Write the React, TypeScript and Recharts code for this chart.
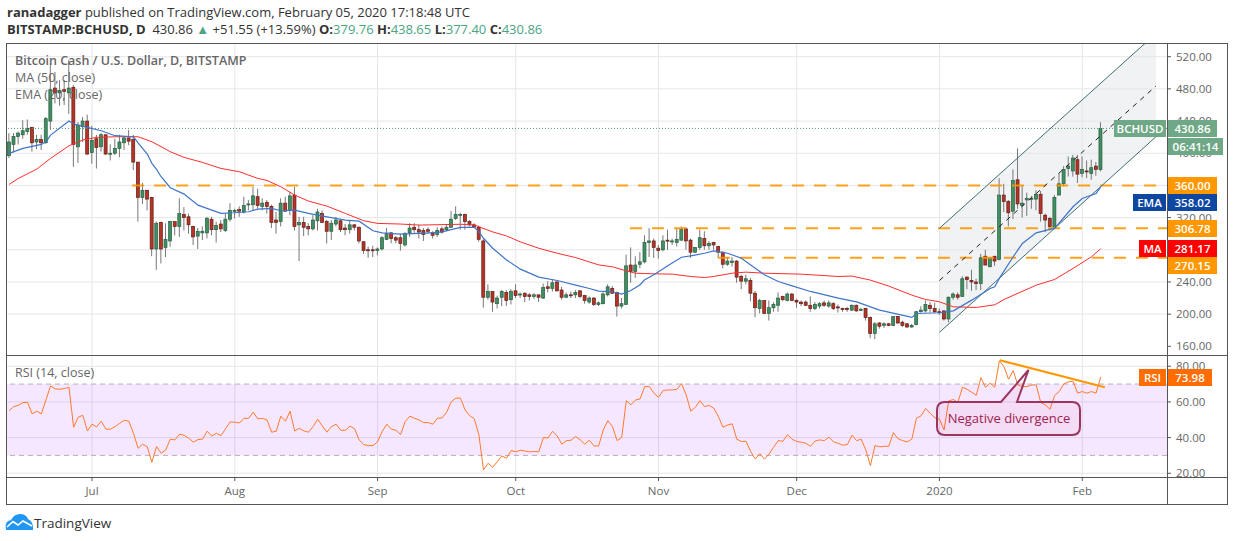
import {
  Area,
  Bar,
  CartesianGrid,
  ComposedChart,
  Line,
  ReferenceArea,
  ReferenceLine,
  XAxis,
  YAxis,
} from 'recharts';

const FONT = '"Open Sans", sans-serif';

// one entry per daily candle, first one is Jun 13 2019
const opens = [
  397,411,421,423,427,432,414,417,413,440,
  481,475,479,475,482,408,433,440,401,418,
  408,423,399,400,406,413,419,417,389,345,
  354,345,281,314,283,291,315,309,324,321,
  309,297,301,301,318,305,312,304,318,328,
  330,327,336,336,346,334,339,334,317,315,
  338,329,348,311,314,309,306,316,325,315,
  303,312,316,307,305,311,308,290,280,280,
  279,281,293,301,295,295,286,301,308,305,
  304,305,301,299,306,305,308,319,323,324,
  315,311,308,291,221,228,213,221,227,218,
  229,224,226,224,222,224,220,234,232,240,
  230,221,224,224,229,223,215,220,212,213,
  224,232,227,210,212,261,253,262,265,289,
  291,282,280,292,290,289,292,306,292,277,
  283,294,285,289,284,277,262,264,266,247,
  241,242,226,207,217,201,208,211,222,217,
  225,217,215,215,211,207,210,214,210,213,
  209,207,207,205,211,205,207,196,176,189,
  186,188,186,197,190,188,184,187,203,204,
  211,207,203,204,194,221,224,222,246,242,
  240,238,272,259,272,268,348,340,328,367,
  335,342,343,343,349,323,319,308,348,362,
  381,378,392,375,378,375,384,379.76,
];
const highs = [
  425,425,427,441,442,433,423,423,445,512,
  501,491,491,516,485,439,445,448,434,423,
  425,423,411,418,423,421,429,423,389,363,
  354,346,315,315,313,316,315,344,333,325,
  310,307,309,321,321,315,317,325,338,331,
  334,346,342,358,356,344,342,336,327,344,
  346,352,358,321,321,313,323,331,329,317,
  317,321,318,312,317,312,309,291,284,285,
  283,297,307,302,297,300,302,313,313,311,
  307,308,303,308,309,311,328,334,326,325,
  317,313,310,293,237,228,223,230,230,231,
  237,227,227,226,226,224,238,241,243,241,
  234,227,228,230,229,224,222,221,216,228,
  237,235,228,220,274,283,272,277,298,307,
  294,286,298,305,294,306,309,308,294,283,
  305,303,291,290,285,278,271,271,267,249,
  249,245,229,219,217,217,215,227,223,227,
  226,219,217,217,222,215,215,217,217,215,
  212,208,209,212,212,208,208,197,190,190,
  190,189,197,198,192,189,188,204,210,217,
  215,214,207,205,222,227,227,247,247,255,
  244,275,280,271,272,369,362,342,380,406,
  360,351,347,354,353,325,321,348,375,384,
  396,398,398,396,391,392,389,438.65,
];
const lows = [
  394,401,411,418,423,402,405,404,412,429,
  462,459,460,449,383,388,414,398,387,381,
  402,398,391,398,395,404,410,379,315,337,
  329,272,255,263,271,284,298,296,304,300,
  286,281,292,294,298,289,302,302,315,319,
  321,325,329,329,331,329,325,307,300,309,
  327,323,304,266,297,298,304,304,313,288,
  292,309,302,298,300,304,288,275,270,271,
  273,279,292,288,288,279,284,296,300,294,
  291,300,294,296,300,303,307,317,305,305,
  309,307,290,208,218,203,207,210,210,212,
  220,220,215,217,219,215,219,227,228,228,
  218,220,220,220,220,213,213,210,210,212,
  222,225,197,207,212,239,245,257,263,271,
  270,269,278,280,286,284,291,280,270,276,
  280,280,280,280,270,257,260,259,239,231,
  237,216,196,201,200,192,203,203,216,216,
  216,208,210,210,203,205,207,209,208,205,
  202,203,203,204,203,204,192,170,169,182,
  183,185,185,188,184,183,183,186,202,202,
  202,201,199,192,190,218,218,222,231,229,
  230,230,261,258,260,267,327,309,318,331,
  320,322,331,329,315,302,304,306,348,359,
  371,371,363,370,369,367,372,377.4,
];
const closes = [
  414,421,425,428,431,413,417,413,443,479,
  475,478,477,481,411,435,440,399,416,407,
  423,399,400,406,414,419,415,389,345,354,
  343,281,313,281,293,315,309,325,320,311,
  296,303,303,319,305,310,306,318,329,329,
  328,335,337,347,335,338,334,314,314,338,
  328,347,309,314,308,306,317,327,314,303,
  313,317,305,305,311,308,291,279,279,279,
  281,295,300,294,292,288,300,307,305,302,
  299,303,298,304,302,308,318,324,324,315,
  311,308,293,221,228,215,220,228,217,228,
  223,225,222,222,224,221,233,232,239,229,
  221,224,223,227,222,217,220,212,214,225,
  234,226,210,213,260,253,261,265,289,291,
  283,279,291,291,291,293,306,291,277,283,
  295,285,288,286,277,262,266,266,246,241,
  244,226,208,217,201,208,212,220,218,225,
  217,215,213,211,207,212,213,211,214,207,
  208,206,206,211,204,206,196,176,188,185,
  188,186,197,189,186,184,186,203,205,212,
  207,203,202,194,221,225,221,244,243,240,
  238,270,261,270,266,348,340,326,366,337,
  338,344,344,349,325,317,309,345,362,380,
  384,394,374,380,377,382,380,430.86,
];

// moving averages at the days where the curve turns
const emaDays = [
  0,3,7,8,9,13,14,17,20,23,27,28,30,31,32,33,35,38,41,44,46,49,52,54,57,59,62,65,69,73,76,79,81,85,89,
  90,94,98,101,102,103,105,108,111,115,119,123,126,128,131,133,135,137,138,140,143,146,148,151,153,156,159,162,164,167,170,174,180,
  184,189,196,197,202,205,209,213,214,215,218,220,223,226,227,231,233,236,237,
];
const emaValues = [
  399.8,406,411,414.3,422.6,440,436.3,432.1,428,421.8,420.5,413,399,387.4,379.9,370.8,357.1,349.2,335.5,329.3,325.2,326,327.3,330.6,331.4,328.5,329.3,325.2,321,316.9,315.6,303.6,301.1,299.5,300.3,
  300.5,302.2,307.9,307.9,302.6,294.3,281.9,267.4,255.9,246,241.8,236,231.9,228.6,227.8,224.9,229.4,236.5,242.7,248.9,260,270.7,272.4,275.7,278.6,275.7,269.5,257.1,248.9,240.6,235.2,228.2,219.9,
  215.3,205,195.9,200.8,201.7,204.1,217.4,231.9,234,244.4,271.3,287.9,301.1,305.3,306.5,333.5,343.8,350,358.02,
];
const maDays = [
  0,2,6,9,13,16,19,23,28,31,35,38,42,46,50,54,56,59,62,65,69,73,77,80,85,89,
  98,101,105,108,111,115,119,123,128,131,134,136,140,144,148,151,153,157,160,164,172,180,
  183,187,191,196,199,202,205,210,214,216,223,227,231,235,236,237,
];
const maValues = [
  361.2,368.7,380.3,393.6,409.3,416.4,419.7,420.5,420.5,414.3,401.9,394.8,388.6,381.1,377,368.7,366.2,358.3,348,340.5,334.3,325.2,316.1,312.8,312,310.7,
  311.7,310.8,302.2,297.2,289.8,281.9,275.7,270.3,261.2,258.8,253.8,250.9,250.1,249.7,246.8,245.5,246.8,250.9,252.2,250.9,249.7,246.8,
  247.3,242.3,234.8,223.6,218.2,215.3,209.1,208.3,211.6,218.2,236,243.1,256.8,271.3,276.3,281.17,
];
const rsiValues = [
  55.1,57.4,58.1,59.6,59.8,53.3,54.8,53.3,61.1,69,
  67.3,67.1,67.5,68.2,45.8,51.4,52.5,43.7,47.5,46,
  49.2,44.7,44.7,46.2,48,49.7,49.2,42.4,34,36.3,
  34.8,26.2,35,31.2,33.1,39.1,38.7,41.9,41.3,39.6,
  37.4,38.9,39.1,43.6,40.8,42.4,41.1,45,48.8,48.6,
  48.2,50.8,50.8,54.2,50.5,50.8,49.9,43,43.6,52,
  49.2,54.8,43.7,45.2,43.7,43,46.2,50.3,46.5,43,
  46.2,47.5,44.1,44.1,46.4,45,38.7,36.1,35.5,35.5,
  37.6,43.4,47.5,44.7,44.1,41.7,49,52,50.8,49.9,
  48.4,48.4,47.5,50.8,51,54.2,60.2,62.1,62.1,55.5,
  52.3,50.5,41.5,21.9,25.6,23.4,26.5,29.7,28.4,32.7,
  32,32.9,32.5,32,32.2,32,40,39.8,43.6,40.9,
  36.3,38.3,38.5,40.6,38.7,36.3,38.5,35.3,35.3,44.3,
  49.5,46.2,38.3,40,60.7,58.3,61.1,61.7,68.6,68.6,
  64.9,62.6,66.4,66.7,66.7,67.1,70.3,63.9,54.8,57,
  60.7,57.4,58,56.5,51.8,45.8,47.1,47.7,39.1,37.8,
  37.9,32.2,28,31,27.9,30.8,34.6,38.3,37.9,41.7,
  39.1,37.8,37.4,36.8,35.1,38.1,38.7,38.3,40.2,37.6,
  36.8,35.7,36.1,41.3,38.3,39.1,33.1,24.3,35.5,34.8,
  35.1,35.1,42.8,39.3,38.3,37.6,39.1,50.8,52.2,56.3,
  53.6,51,50.3,44.3,60.6,61.3,59.8,68.2,67.1,65.4,
  63.7,73.6,68.2,70.5,68.2,83,79.8,72.7,77.6,69.5,
  68.6,68.6,69.5,69.5,59.6,58.3,55.9,63.6,65.8,70.1,
  71.2,71.6,64.9,65.8,64.9,65.8,64.9,73.98,
];

// rising channel: first and last day, then lower / middle / upper price at both
const channelDays = [202, 249];
const channelLower = [177.4, 420.5];
const channelMiddle = [241.8, 483.6];
const channelUpper = [306.78, 548.8];

const priceTicks = [160, 200, 240, 280, 320, 360, 400, 440, 480, 520];
const rsiTicks = [20, 40, 60, 80];
const monthTicks = [18, 49, 80, 110, 141, 171, 202, 233];
const monthLabels = ['Jul', 'Aug', 'Sep', 'Oct', 'Nov', 'Dec', '2020', 'Feb'];

const X_DOMAIN: [number, number] = [-0.46, 251.4];
const GRID = '#e6e6e6';
const AXIS = '#555555';
const TAG_GREEN = '#6fa886';
const ORANGE = '#ff9800';

const candleRows: any[] = opens.map((open, i) => ({
  day: i,
  open,
  close: closes[i],
  high: highs[i],
  low: lows[i],
  range: [lows[i], highs[i]],
}));
emaDays.forEach((d, i) => {
  candleRows[d].ema = emaValues[i];
});
maDays.forEach((d, i) => {
  candleRows[d].ma = maValues[i];
});
candleRows[channelDays[0]].lower = channelLower[0];
candleRows[channelDays[0]].middle = channelMiddle[0];
candleRows[channelDays[0]].upper = channelUpper[0];
candleRows[channelDays[0]].band = [channelLower[0], channelUpper[0]];
const priceRows = [
  ...candleRows,
  {
    day: channelDays[1],
    lower: channelLower[1],
    middle: channelMiddle[1],
    upper: channelUpper[1],
    band: [channelLower[1], channelUpper[1]],
  },
];
const rsiRows = rsiValues.map((rsi, i) => ({ day: i, rsi }));

function Candle(props: any) {
  const { x, y, width, height, payload } = props;
  if (!payload || payload.open == null || !height) return null;
  const top = Math.min(y, y + height);
  const full = Math.abs(height);
  const perUnit = full / (payload.high - payload.low);
  const cx = x + width / 2;
  const up = payload.close >= payload.open;
  const bodyTop = top + (payload.high - Math.max(payload.open, payload.close)) * perUnit;
  const bodyHeight = Math.max(Math.abs(payload.close - payload.open) * perUnit, 1);
  return (
    <g>
      <line x1={cx} x2={cx} y1={top} y2={top + full} stroke="#777" strokeWidth={1} />
      <rect
        x={cx - 1.5}
        y={bodyTop}
        width={3}
        height={bodyHeight}
        fill={up ? '#3f8f63' : '#b83226'}
        stroke={up ? '#2a5d40' : '#5d2018'}
        strokeWidth={0.7}
      />
    </g>
  );
}

function Tag({ left, top, width, bg, children }: any) {
  return (
    <div
      style={{
        position: 'absolute',
        left,
        top,
        width,
        height: 17,
        lineHeight: '17px',
        background: bg,
        color: '#fff',
        fontSize: 11.5,
        fontWeight: 600,
        textAlign: 'center',
      }}
    >
      {children}
    </div>
  );
}

function Legend({ top, children }: any) {
  return (
    <div style={{ position: 'absolute', left: 15, top, fontSize: 12.5, color: '#666', lineHeight: '17px', whiteSpace: 'nowrap' }}>
      {children}
    </div>
  );
}

function PriceChart() {
  return (
    <div style={{ position: 'absolute', left: 7, top: 44 }}>
      <ComposedChart width={1220} height={311} data={priceRows} margin={{ top: 0, right: 0, bottom: 0, left: 0 }}>
        <CartesianGrid stroke={GRID} horizontalValues={priceTicks} verticalValues={monthTicks} />
        <XAxis dataKey="day" type="number" domain={X_DOMAIN} allowDataOverflow ticks={monthTicks} hide />
        <YAxis
          orientation="right"
          width={60}
          domain={[149.2, 535.8]}
          allowDataOverflow
          ticks={priceTicks}
          tickFormatter={(v: number) => v.toFixed(2)}
          tick={{ fontSize: 11.5, fill: '#666', fontFamily: FONT }}
          tickLine={{ stroke: AXIS }}
          tickSize={4}
          tickMargin={5}
          axisLine={false}
        />
        <Area
          dataKey="band"
          connectNulls
          stroke="none"
          fill="#e3e6ea"
          fillOpacity={0.5}
          dot={false}
          activeDot={false}
          isAnimationActive={false}
        />
        <ReferenceLine y={430.86} stroke="#4f9b6e" strokeDasharray="1 2" />
        <ReferenceLine segment={[{ x: 26.7, y: 360 }, { x: 249.2, y: 360 }]} stroke={ORANGE} strokeWidth={2} strokeOpacity={0.9} strokeDasharray="12 10" />
        <ReferenceLine segment={[{ x: 134.8, y: 306.78 }, { x: 251.4, y: 306.78 }]} stroke={ORANGE} strokeWidth={2} strokeOpacity={0.9} strokeDasharray="12 10" />
        <ReferenceLine segment={[{ x: 153.9, y: 270.15 }, { x: 251.4, y: 270.15 }]} stroke={ORANGE} strokeWidth={2} strokeOpacity={0.9} strokeDasharray="12 10" />
        <Line dataKey="upper" connectNulls stroke="#3f6e73" strokeWidth={1} dot={false} activeDot={false} isAnimationActive={false} />
        <Line dataKey="lower" connectNulls stroke="#3f6e73" strokeWidth={1} dot={false} activeDot={false} isAnimationActive={false} />
        <Line dataKey="middle" connectNulls stroke="#222" strokeWidth={1} strokeDasharray="5 5" dot={false} activeDot={false} isAnimationActive={false} />
        <Bar dataKey="range" barSize={5} shape={<Candle />} isAnimationActive={false} />
        <Line dataKey="ma" connectNulls stroke="#ff2d2d" strokeWidth={1} dot={false} activeDot={false} isAnimationActive={false} />
        <Line dataKey="ema" connectNulls stroke="#3f74c8" strokeWidth={1.2} dot={false} activeDot={false} isAnimationActive={false} />
      </ComposedChart>
    </div>
  );
}

function RsiChart() {
  return (
    <div style={{ position: 'absolute', left: 7, top: 355 }}>
      <ComposedChart width={1220} height={149} data={rsiRows} margin={{ top: 0, right: 0, bottom: 0, left: 0 }}>
        <CartesianGrid stroke={GRID} horizontalValues={rsiTicks} verticalValues={monthTicks} />
        <XAxis
          dataKey="day"
          type="number"
          domain={X_DOMAIN}
          allowDataOverflow
          ticks={monthTicks}
          height={27}
          tickFormatter={(v: number) => monthLabels[monthTicks.indexOf(v)]}
          tick={{ fontSize: 11.5, fill: '#666', fontFamily: FONT }}
          tickLine={{ stroke: AXIS }}
          tickSize={4}
          tickMargin={6}
          axisLine={false}
        />
        <YAxis
          orientation="right"
          width={60}
          domain={[17.9, 86.3]}
          allowDataOverflow
          ticks={rsiTicks}
          tickFormatter={(v: number) => v.toFixed(2)}
          tick={{ fontSize: 11.5, fill: '#666', fontFamily: FONT }}
          tickLine={{ stroke: AXIS }}
          tickSize={4}
          tickMargin={5}
          axisLine={false}
        />
        <ReferenceArea y1={30} y2={70} fill="#9915ff" fillOpacity={0.1} stroke="none" />
        <ReferenceLine y={70} stroke="#b9aebd" strokeDasharray="5 4" />
        <ReferenceLine y={30} stroke="#b9aebd" strokeDasharray="5 4" />
        <Line dataKey="rsi" stroke="#ff7a2d" strokeWidth={1} dot={false} activeDot={false} isAnimationActive={false} />
        <ReferenceLine segment={[{ x: 215.1, y: 83.4 }, { x: 237.9, y: 68.2 }]} stroke={ORANGE} strokeWidth={2} />
      </ComposedChart>
    </div>
  );
}

function Header() {
  const teal = { color: '#4aa583' };
  return (
    <div style={{ position: 'absolute', left: 7, top: 4, fontSize: 13, color: '#333', lineHeight: '17px', whiteSpace: 'nowrap' }}>
      <div>
        <b>ranadagger</b> published on TradingView.com, February 05, 2020 17:18:48 UTC
      </div>
      <div>
        <b>BITSTAMP:BCHUSD, D</b> &nbsp;430.86 <span style={teal}>▲</span> +51.55 (+13.59%) <b>O:</b>
        <span style={teal}>379.76</span> <b>H:</b>
        <span style={teal}>438.65</span> <b>L:</b>
        <span style={teal}>377.40</span> <b>C:</b>
        <span style={teal}>430.86</span>
      </div>
    </div>
  );
}

export default function App() {
  return (
    <div style={{ position: 'absolute', left: 0, top: 0, width: 1234, height: 541, background: '#fff', fontFamily: FONT, overflow: 'hidden' }}>
      <Header />
      <PriceChart />
      <RsiChart />

      {/* frame and pane dividers */}
      <div style={{ position: 'absolute', left: 6, top: 43, width: 1220, height: 460, border: `1px solid ${AXIS}` }} />
      <div style={{ position: 'absolute', left: 7, top: 355, width: 1220, height: 1, background: AXIS }} />
      <div style={{ position: 'absolute', left: 7, top: 477, width: 1220, height: 1, background: AXIS }} />
      <div style={{ position: 'absolute', left: 1167, top: 44, width: 1, height: 460, background: AXIS }} />

      <Legend top={52}>
        <span style={{ fontWeight: 600 }}>Bitcoin Cash / U.S. Dollar, D, BITSTAMP</span>
      </Legend>
      <Legend top={69}>MA (50, close)</Legend>
      <Legend top={86}>EMA (20, close)</Legend>
      <Legend top={364}>RSI (14, close)</Legend>

      <Tag left={1114} top={120} width={52} bg={TAG_GREEN}>BCHUSD</Tag>
      <Tag left={1168} top={120} width={49} bg={TAG_GREEN}>430.86</Tag>
      <Tag left={1168} top={138} width={55} bg={TAG_GREEN}>06:41:14</Tag>
      <Tag left={1168} top={177} width={49} bg={ORANGE}>360.00</Tag>
      <Tag left={1133} top={194} width={33} bg="#0d47a1">EMA</Tag>
      <Tag left={1168} top={194} width={49} bg="#0d47a1">358.02</Tag>
      <Tag left={1168} top={220} width={49} bg={ORANGE}>306.78</Tag>
      <Tag left={1139} top={240} width={27} bg="#ff0000">MA</Tag>
      <Tag left={1168} top={240} width={49} bg="#ff0000">281.17</Tag>
      <Tag left={1168} top={257} width={49} bg={ORANGE}>270.15</Tag>
      <Tag left={1139} top={369} width={27} bg="#ff6d00">RSI</Tag>
      <Tag left={1168} top={369} width={44} bg="#ff6d00">73.98</Tag>

      <svg width={1234} height={541} style={{ position: 'absolute', left: 0, top: 0 }}>
        <path
          d="M945 402 H1001 L1028.5 370 L1017 402 H1072 Q1080 402 1080 410 V427 Q1080 435 1072 435 H945 Q937 435 937 427 V410 Q937 402 945 402 Z"
          fill="#e91e63"
          fillOpacity={0.06}
          stroke="#9b3560"
          strokeWidth={2}
        />
        <text x={1009} y={423} textAnchor="middle" fontSize={13} fill="#9c1f4e" fontFamily={FONT}>
          Negative divergence
        </text>
        <path
          d="M6 530 Q4 521 11 520 Q14 514 20 514 Q26 514 28 519 Q34 522 33 530 Z"
          fill="#2196f3"
        />
        <path d="M7 527 L13 521.5 L18 525 L23 521 L32 526" fill="none" stroke="#fff" strokeWidth={1.6} />
      </svg>
      <div style={{ position: 'absolute', left: 34, top: 514, fontSize: 13.5, color: '#333', lineHeight: '18px' }}>
        TradingView
      </div>
    </div>
  );
}
